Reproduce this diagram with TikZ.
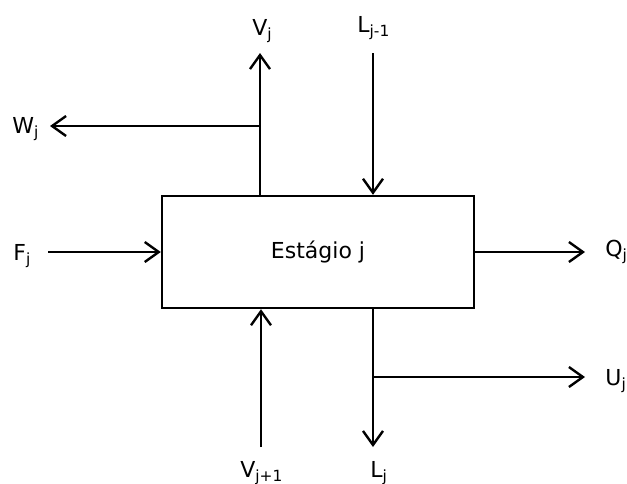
\documentclass[tikz,border=0pt]{standalone}
\usepackage{fontspec}
\setmainfont{DejaVu Sans}
\usetikzlibrary{arrows.meta}

\begin{document}
\begin{tikzpicture}[x=0.5pt, y=-0.5pt,
  stagebox/.style={rectangle, draw, line width=1.2pt, minimum width=156pt,
                   minimum height=56pt, font=\fontsize{11}{13}\selectfont},
  flow/.style={-{Straight Barb[length=7pt, width=10pt, line width=1.2pt]}, line width=1.2pt},
  lbl/.style={font=\fontsize{11}{13}\selectfont, inner sep=0pt, anchor=base west}
]
\useasboundingbox (0,0) rectangle (627,483);

\node[stagebox] (stage) at (318, 252) {Estágio j};

% stream labels
\node[lbl] (vj)   at (252, 35)  {V\textsubscript{j}};
\node[lbl] (lj1)  at (357, 32)  {L\textsubscript{j-1}};
\node[lbl] (wj)   at (12, 133)  {W\textsubscript{j}};
\node[lbl] (fj)   at (13, 260)  {F\textsubscript{j}};
\node[lbl] (qj)   at (605, 256) {Q\textsubscript{j}};
\node[lbl] (uj)   at (605, 385) {U\textsubscript{j}};
\node[lbl] (vj1)  at (240, 477) {V\textsubscript{j+1}};
\node[lbl] (lj)   at (370, 477) {L\textsubscript{j}};

% free ends
\coordinate (vtop) at (260, 53);
\coordinate (wsplit) at (260, 126);
\coordinate (wend) at (50, 126);
\coordinate (ltop) at (373, 53);
\coordinate (fstart) at (48, 252);
\coordinate (qend) at (585, 252);
\coordinate (vbot) at (261, 447);
\coordinate (lbot) at (373, 447);
\coordinate (usplit) at (373, 377);
\coordinate (uend) at (585, 377);

\draw[flow] (stage.north -| vtop) -- (vtop);
\draw[flow] (wsplit) -- (wend);
\draw[flow] (ltop) -- (stage.north -| ltop);
\draw[flow] (fstart) -- (stage.west |- fstart);
\draw[flow] (stage.east |- qend) -- (qend);
\draw[flow] (vbot) -- (stage.south -| vbot);
\draw[flow] (stage.south -| lbot) -- (lbot);
\draw[flow] (usplit) -- (uend);

\end{tikzpicture}
\end{document}
